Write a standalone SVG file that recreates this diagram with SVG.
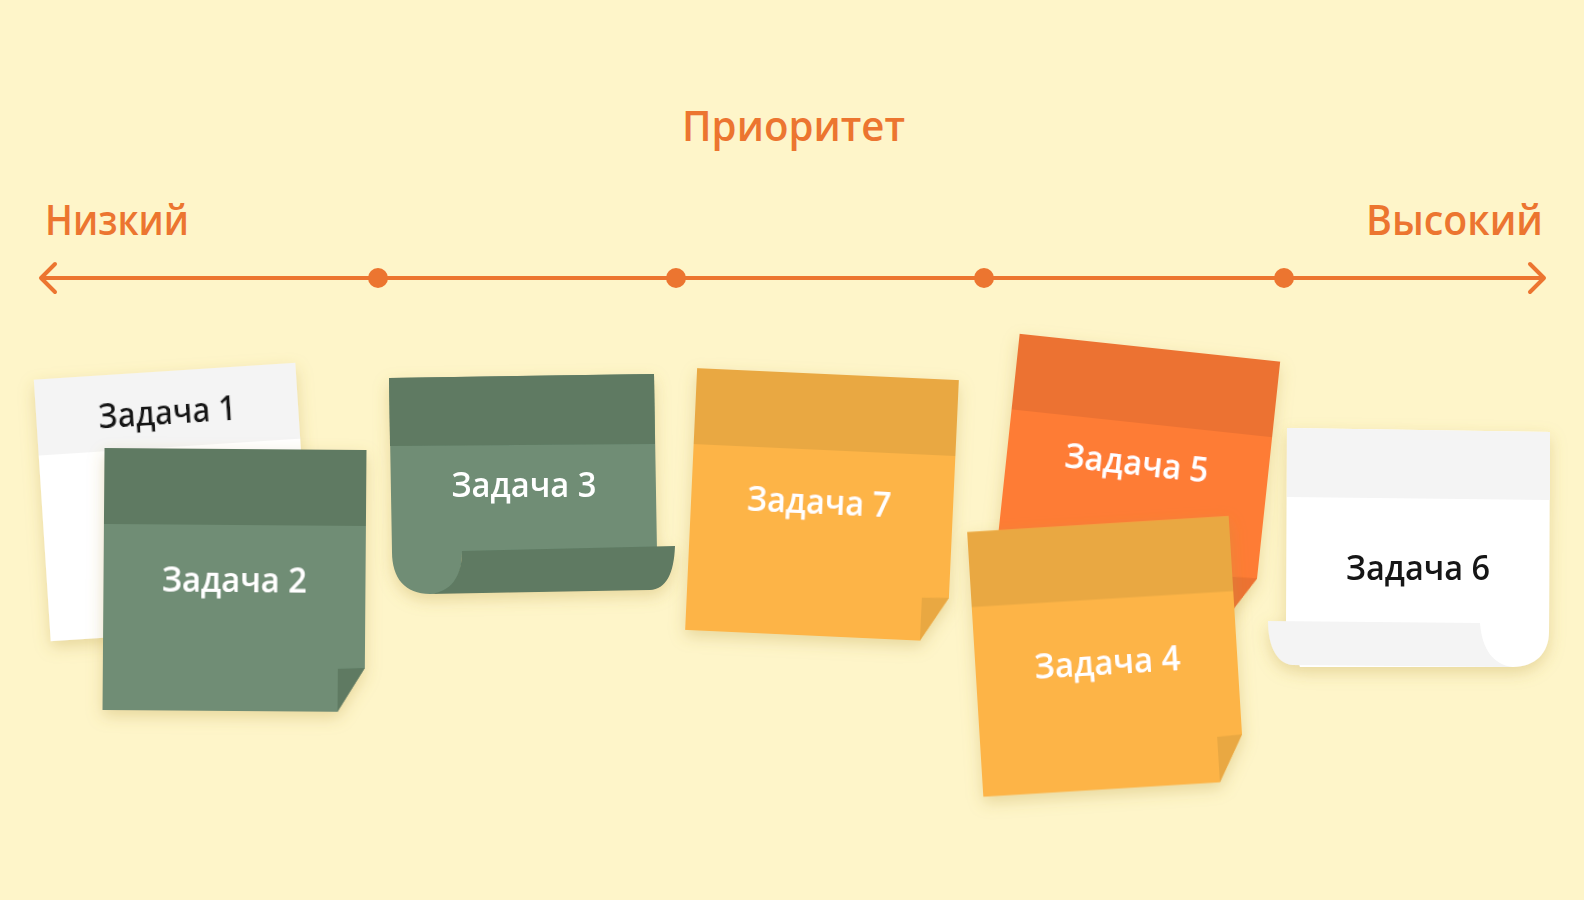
<svg xmlns="http://www.w3.org/2000/svg" width="1584" height="900" viewBox="0 0 1584 900">
  <defs>
    <filter id="sh" x="-25%" y="-25%" width="150%" height="150%">
      <feDropShadow dx="0" dy="6" stdDeviation="8" flood-color="#B89A3A" flood-opacity="0.32"/>
    </filter>
    <style>
      .hdr { font-family: "Open Sans", "Liberation Sans", sans-serif; font-weight: 600; font-size: 42px; fill: #EC7530; }
      .lbl { font-family: "Open Sans", "Liberation Sans", sans-serif; font-weight: 600; font-size: 34px; text-anchor: middle; }
      .w { fill: #FFFFFF; }
      .k { fill: #151515; }
      .axis { stroke: #EC7530; stroke-width: 4; fill: none; stroke-linecap: round; stroke-linejoin: round; }
      .dot { fill: #EC7530; }
      .gDark { fill: #5E7A62; }
      .gBody { fill: #6F8D75; }
      .oDark { fill: #E9A843; }
      .oBody { fill: #FDB446; }
      .rDark { fill: #EC7232; }
      .rBody { fill: #FE7C35; }
      .wDark { fill: #F4F4F4; }
      .wBody { fill: #FFFFFF; }
    </style>
  </defs>

  <rect x="0" y="0" width="1584" height="900" fill="#FEF5C9"/>

  <g id="headers">
    <text class="hdr" x="682" y="141" textLength="223" lengthAdjust="spacingAndGlyphs">Приоритет</text>
    <text class="hdr" x="45" y="235" textLength="144" lengthAdjust="spacingAndGlyphs">Низкий</text>
    <text class="hdr" x="1366" y="235" textLength="177" lengthAdjust="spacingAndGlyphs">Высокий</text>
  </g>

  <g id="connectors">
    <line class="axis" x1="42" y1="278" x2="1543" y2="278"/>
    <polyline class="axis" points="55,264 41,278 55,292"/>
    <polyline class="axis" points="1530,264 1544,278 1530,292"/>
    <circle class="dot" cx="378" cy="278" r="10"/>
    <circle class="dot" cx="676" cy="278" r="10"/>
    <circle class="dot" cx="984" cy="278" r="10"/>
    <circle class="dot" cx="1284" cy="278" r="10"/>
  </g>

  <g id="note1" transform="translate(173,502) rotate(-3.7)" filter="url(#sh)">
    <rect class="wBody" x="-131" y="-131" width="262" height="262"/>
    <rect class="wDark" x="-131" y="-131" width="262" height="76"/>
    <text class="lbl k" x="0" y="-78" textLength="138" lengthAdjust="spacingAndGlyphs">Задача 1</text>
  </g>

  <g id="note2" transform="translate(234.5,580) rotate(0.44)" filter="url(#sh)">
    <polygon class="gBody" points="-131,-131 131,-131 131,87 104,131 -131,131"/>
    <rect class="gDark" x="-131" y="-131" width="262" height="76"/>
    <polygon class="gDark" points="104,88 131,87 104,131"/>
    <text class="lbl w" x="0" y="12" textLength="145" lengthAdjust="spacingAndGlyphs">Задача 2</text>
  </g>

  <g id="note3" filter="url(#sh)">
    <path class="gBody" d="M389,378 L654,374 L657,552 L462,552 C462,580 450,594 430,594 C405,594 392,578 392,552 Z"/>
    <polygon class="gDark" points="389,378 654,374 655,444 390,446"/>
    <path class="gDark" d="M462,551 L675,546 C674,574 666,589 650,590 L430,594 C450,592 462,578 462,551 Z"/>
    <text class="lbl w" x="524" y="497" textLength="145" lengthAdjust="spacingAndGlyphs">Задача 3</text>
  </g>

  <g id="note7" transform="translate(822,505) rotate(2.62)" filter="url(#sh)">
    <polygon class="oBody" points="-131,-131 131,-131 131,87 104,131 -131,131"/>
    <rect class="oDark" x="-131" y="-131" width="262" height="76"/>
    <polygon class="oDark" points="104,88 131,87 104,131"/>
    <text class="lbl w" x="-3" y="9" textLength="144" lengthAdjust="spacingAndGlyphs">Задача 7</text>
  </g>

  <g id="note5" transform="translate(1136,478) rotate(6.1)" filter="url(#sh)">
    <polygon class="rBody" points="-131,-131 131,-131 131,87 104,131 -131,131"/>
    <rect class="rDark" x="-131" y="-131" width="262" height="76"/>
    <polygon class="rDark" points="104,88 131,87 104,131"/>
    <text class="lbl w" x="-1" y="-3" textLength="144" lengthAdjust="spacingAndGlyphs">Задача 5</text>
  </g>

  <g id="note4" transform="translate(1106,656.5) rotate(-3.5)" filter="url(#sh)">
    <polygon class="oBody" points="-131,-132.5 131,-132.5 131,86 106,132.5 -131,132.5"/>
    <rect class="oDark" x="-131" y="-132.5" width="262" height="75"/>
    <polygon class="oDark" points="106,87 131,86 106,132.5"/>
    <text class="lbl w" x="1" y="18" textLength="146" lengthAdjust="spacingAndGlyphs">Задача 4</text>
  </g>

  <g id="note6" filter="url(#sh)">
    <path class="wBody" d="M1287,428 L1550,432 L1549,632 C1549,653 1535,667 1513,667 L1300,667 L1286,622 Z"/>
    <polygon class="wDark" points="1287,428 1550,432 1550,500 1287,497"/>
    <path class="wDark" d="M1268,621 L1480,623 C1482,650 1494,665 1513,667 L1292,665 C1276,663 1268,645 1268,621 Z"/>
    <text class="lbl k" x="1418" y="580" textLength="144" lengthAdjust="spacingAndGlyphs">Задача 6</text>
  </g>
</svg>
